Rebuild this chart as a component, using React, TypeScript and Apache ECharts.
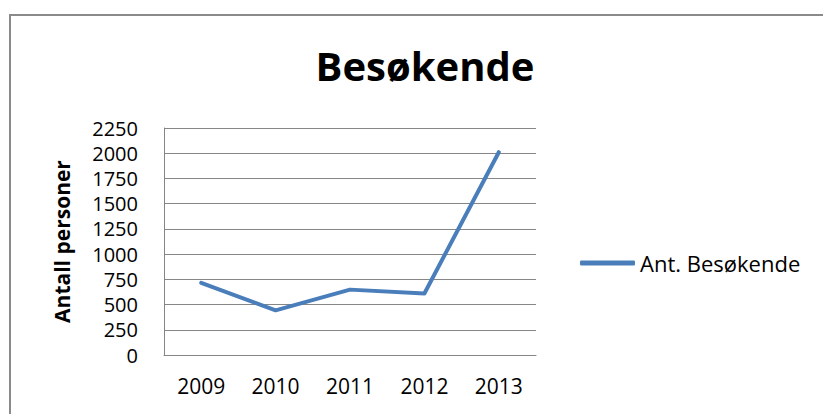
import React, { useEffect, useRef } from "react";
import * as echarts from "echarts";

const years = ["2009", "2010", "2011", "2012", "2013"];
const visitors = [715, 443, 648, 610, 2010];
const seriesName = "Ant. Besøkende";
const titleText = "Besøkende";
const yAxisName = "Antall personer";

export default function App() {
  const ref = useRef<HTMLDivElement>(null);
  useEffect(() => {
    if (!ref.current) return;
    const chart = echarts.init(ref.current, null, { renderer: "svg" });
    const font = "'Open Sans', sans-serif";
    chart.setOption({
      animation: false,
      backgroundColor: "#ffffff",
      graphic: [
        {
          type: "rect",
          shape: { x: 10, y: 15, width: 900, height: 500 },
          style: { fill: "none", stroke: "#8a8a8a", lineWidth: 2 },
          silent: true,
        },
      ],
      title: {
        text: titleText,
        left: 420,
        textAlign: "center",
        top: 40,
        textStyle: { fontFamily: font, fontWeight: "bold", fontSize: 40, color: "#000" },
      },
      legend: {
        data: [seriesName],
        left: 575,
        top: 247,
        itemWidth: 55,
        itemHeight: 5,
        icon: "roundRect",
        itemGap: 6,
        textStyle: { fontFamily: font, fontSize: 22, color: "#000" },
      },
      grid: { left: 164, right: 287, top: 128, bottom: 59, containLabel: false },
      xAxis: {
        type: "category",
        data: years,
        boundaryGap: true,
        axisLine: { show: true, lineStyle: { color: "#868686", width: 1 } },
        axisTick: { show: false },
        axisLabel: { fontFamily: font, fontSize: 21, color: "#000", margin: 20 },
        splitLine: { show: false },
      },
      yAxis: {
        type: "value",
        min: 0,
        max: 2250,
        interval: 250,
        name: yAxisName,
        nameLocation: "middle",
        nameRotate: 90,
        nameGap: 92,
        nameTextStyle: { fontFamily: font, fontWeight: "bold", fontSize: 21, color: "#000" },
        axisLine: { show: true, lineStyle: { color: "#868686", width: 1 } },
        axisTick: { show: false },
        axisLabel: {
          fontFamily: font,
          fontSize: 20,
          lineHeight: 21,
          color: "#000",
          margin: 26,
          formatter: (v: number) => String(v),
        },
        splitLine: { show: true, lineStyle: { color: "#868686", width: 1 } },
      },
      series: [
        {
          name: seriesName,
          type: "line",
          data: visitors,
          showSymbol: false,
          symbol: "none",
          lineStyle: { color: "#4a7ebb", width: 4, cap: "round", join: "round" },
          itemStyle: { color: "#4a7ebb" },
        },
      ],
    });
    return () => chart.dispose();
  }, []);
  return (
    <div
      ref={ref}
      style={{ position: "fixed", left: 0, top: 0, width: "823px", height: "414px" }}
    />
  );
}
